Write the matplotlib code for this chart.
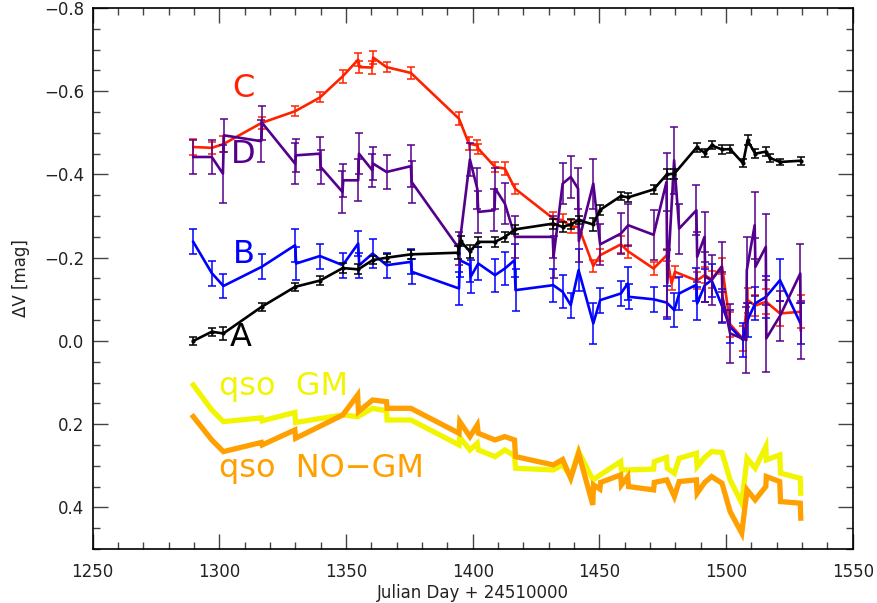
import matplotlib
matplotlib.use("Agg")
import matplotlib.pyplot as plt
from matplotlib.ticker import MultipleLocator, FuncFormatter

# ---------------- light curves (Julian Day - 2451000, delta V in mag) ----------------
jd_a = [1289.7, 1297.0, 1301.6, 1316.7, 1329.9, 1339.7, 1348.7, 1354.8, 1360.5, 1366.0,
        1375.6, 1394.2, 1395.2, 1398.9, 1402.2, 1408.8, 1412.7, 1416.7, 1431.8, 1435.5,
        1438.7, 1441.8, 1447.5, 1450.3, 1458.5, 1461.4, 1471.4, 1476.6, 1479.6, 1488.4,
        1491.6, 1494.3, 1498.4, 1501.6, 1506.7, 1508.5, 1511.5, 1515.8, 1517.2, 1521.3,
        1529.4]
mag_a = [0.000, -0.022, -0.018, -0.082, -0.130, -0.145, -0.175, -0.172, -0.194, -0.200,
         -0.208, -0.212, -0.240, -0.215, -0.238, -0.238, -0.250, -0.268, -0.282, -0.274,
         -0.280, -0.290, -0.280, -0.315, -0.348, -0.345, -0.364, -0.400, -0.402, -0.465,
         -0.452, -0.470, -0.460, -0.461, -0.427, -0.482, -0.450, -0.455, -0.440, -0.430,
         -0.433]
err_a = [0.010, 0.010, 0.015, 0.010, 0.010, 0.010, 0.012, 0.012, 0.010, 0.010,
         0.010, 0.015, 0.012, 0.015, 0.012, 0.012, 0.012, 0.010, 0.012, 0.012,
         0.012, 0.010, 0.015, 0.012, 0.010, 0.010, 0.010, 0.012, 0.012, 0.010,
         0.010, 0.010, 0.010, 0.010, 0.010, 0.012, 0.010, 0.010, 0.010, 0.008,
         0.010]

jd_b = [1289.7, 1297.0, 1301.6, 1316.7, 1329.9, 1330.3, 1339.7, 1348.7, 1354.8, 1355.2,
        1360.5, 1366.0, 1375.6, 1376.0, 1394.6, 1394.9, 1398.9, 1399.2, 1402.2, 1408.8,
        1412.7, 1416.5, 1416.9, 1431.8, 1435.5, 1438.7, 1441.8, 1447.6, 1450.3, 1458.5,
        1461.2, 1461.6, 1471.4, 1476.6, 1479.6, 1481.5, 1488.3, 1488.6, 1491.6, 1494.3,
        1498.4, 1501.6, 1506.7, 1508.5, 1511.5, 1515.8, 1521.3, 1529.4]
mag_b = [-0.238, -0.163, -0.132, -0.178, -0.230, -0.186, -0.204, -0.182, -0.234, -0.182,
         -0.210, -0.182, -0.190, -0.166, -0.126, -0.194, -0.182, -0.154, -0.186, -0.158,
         -0.174, -0.194, -0.122, -0.134, -0.118, -0.086, -0.170, -0.042, -0.098, -0.114,
         -0.138, -0.106, -0.100, -0.092, -0.074, -0.114, -0.135, -0.090, -0.134, -0.146,
         -0.084, -0.034, -0.002, -0.050, -0.090, -0.106, -0.146, -0.042]
err_b = [0.030, 0.030, 0.030, 0.030, 0.040, 0.040, 0.030, 0.030, 0.030, 0.030,
         0.035, 0.030, 0.030, 0.030, 0.040, 0.040, 0.040, 0.040, 0.040, 0.040,
         0.040, 0.040, 0.050, 0.040, 0.040, 0.030, 0.050, 0.050, 0.030, 0.030,
         0.040, 0.030, 0.030, 0.040, 0.040, 0.040, 0.040, 0.040, 0.040, 0.040,
         0.040, 0.040, 0.040, 0.040, 0.040, 0.050, 0.050, 0.050]

jd_c = [1289.7, 1297.0, 1301.6, 1316.7, 1329.9, 1339.7, 1348.7, 1354.8, 1355.3, 1360.3,
        1360.7, 1366.0, 1375.6, 1394.6, 1398.5, 1401.8, 1402.2, 1408.8, 1412.7, 1416.7,
        1431.8, 1435.5, 1438.7, 1441.8, 1447.6, 1450.3, 1458.5, 1461.4, 1471.4, 1476.6,
        1478.5, 1479.8, 1488.4, 1491.6, 1494.3, 1498.4, 1501.6, 1506.7, 1508.5, 1511.5,
        1515.8, 1521.3, 1529.4]
mag_c = [-0.466, -0.464, -0.473, -0.524, -0.552, -0.585, -0.636, -0.676, -0.658, -0.657,
         -0.681, -0.658, -0.644, -0.534, -0.474, -0.470, -0.462, -0.418, -0.414, -0.366,
         -0.294, -0.290, -0.275, -0.274, -0.180, -0.206, -0.232, -0.215, -0.174, -0.206,
         -0.138, -0.166, -0.145, -0.158, -0.148, -0.180, -0.040, -0.005, -0.098, -0.085,
         -0.094, -0.066, -0.070]
err_c = [0.020, 0.015, 0.020, 0.015, 0.012, 0.012, 0.015, 0.015, 0.015, 0.015,
         0.015, 0.012, 0.015, 0.015, 0.015, 0.012, 0.012, 0.012, 0.015, 0.012,
         0.015, 0.015, 0.015, 0.015, 0.015, 0.015, 0.020, 0.015, 0.015, 0.015,
         0.015, 0.015, 0.020, 0.020, 0.020, 0.020, 0.030, 0.030, 0.030, 0.025,
         0.030, 0.030, 0.040]

jd_d = [1289.7, 1297.0, 1301.4, 1301.8, 1316.5, 1316.9, 1329.9, 1330.2, 1339.7, 1340.0,
        1348.6, 1348.9, 1354.8, 1355.1, 1360.4, 1360.7, 1366.0, 1375.6, 1375.9, 1394.6,
        1398.9, 1401.8, 1402.2, 1408.6, 1408.9, 1412.7, 1416.7, 1431.6, 1431.9, 1435.5,
        1438.7, 1441.6, 1441.9, 1447.6, 1450.3, 1458.5, 1461.4, 1471.4, 1476.5, 1476.8,
        1479.5, 1481.5, 1488.3, 1488.6, 1491.5, 1491.8, 1494.3, 1498.3, 1498.6, 1501.6,
        1508.0, 1508.2, 1511.3, 1511.6, 1515.7, 1515.9, 1521.3, 1529.3, 1529.5]
mag_d = [-0.442, -0.442, -0.402, -0.494, -0.480, -0.524, -0.426, -0.446, -0.450, -0.418,
         -0.358, -0.386, -0.386, -0.450, -0.410, -0.426, -0.406, -0.420, -0.382, -0.222,
         -0.436, -0.366, -0.310, -0.314, -0.366, -0.330, -0.250, -0.250, -0.202, -0.378,
         -0.394, -0.366, -0.240, -0.378, -0.232, -0.258, -0.278, -0.255, -0.382, -0.138,
         -0.434, -0.270, -0.314, -0.202, -0.250, -0.154, -0.146, -0.178, -0.106, -0.018,
         -0.002, -0.170, -0.278, -0.178, -0.226, -0.006, -0.060, -0.162, -0.026]
err_d = [0.040, 0.040, 0.070, 0.040, 0.050, 0.040, 0.050, 0.040, 0.040, 0.040,
         0.050, 0.040, 0.050, 0.050, 0.040, 0.040, 0.040, 0.050, 0.050, 0.040,
         0.040, 0.050, 0.050, 0.050, 0.050, 0.050, 0.050, 0.050, 0.050, 0.050,
         0.050, 0.050, 0.050, 0.060, 0.050, 0.050, 0.050, 0.060, 0.070, 0.080,
         0.080, 0.060, 0.060, 0.060, 0.060, 0.060, 0.060, 0.060, 0.060, 0.070,
         0.080, 0.080, 0.080, 0.070, 0.080, 0.080, 0.060, 0.070, 0.070]

# quasar light curves derived with and without the gravitational-microlensing correction
jd_gm = [1289.7, 1297.0, 1301.6, 1316.6, 1316.9, 1329.8, 1330.1, 1348.7, 1354.6, 1360.5,
         1366.0, 1366.2, 1375.6, 1394.6, 1394.9, 1398.9, 1401.8, 1402.2, 1408.8, 1412.7,
         1416.5, 1416.9, 1431.8, 1435.5, 1438.7, 1441.8, 1447.5, 1450.3, 1458.4, 1458.7,
         1461.4, 1471.4, 1471.7, 1476.5, 1476.8, 1479.6, 1481.5, 1488.3, 1488.6, 1491.6,
         1494.3, 1498.4, 1501.6, 1506.2, 1508.3, 1511.5, 1515.7, 1515.9, 1521.2, 1521.5,
         1529.3, 1529.5]
mag_gm = [0.106, 0.166, 0.194, 0.185, 0.192, 0.172, 0.196, 0.178, 0.182, 0.162,
          0.168, 0.190, 0.190, 0.250, 0.232, 0.262, 0.246, 0.262, 0.278, 0.262,
          0.276, 0.306, 0.310, 0.298, 0.326, 0.266, 0.334, 0.322, 0.290, 0.310,
          0.310, 0.308, 0.290, 0.280, 0.306, 0.318, 0.282, 0.270, 0.302, 0.280,
          0.266, 0.268, 0.334, 0.390, 0.282, 0.306, 0.254, 0.286, 0.274, 0.318,
          0.330, 0.366]

jd_nogm = [1289.7, 1297.0, 1301.6, 1316.6, 1316.9, 1329.8, 1330.1, 1348.7, 1354.6, 1354.9,
           1360.5, 1366.0, 1366.2, 1375.6, 1394.6, 1394.9, 1398.9, 1401.8, 1402.2, 1408.8,
           1412.7, 1416.5, 1416.9, 1431.8, 1435.5, 1438.7, 1441.8, 1447.4, 1447.7, 1450.2,
           1450.5, 1458.4, 1458.7, 1461.2, 1461.5, 1471.4, 1471.7, 1476.6, 1479.6, 1481.5,
           1488.3, 1488.6, 1491.6, 1494.3, 1498.4, 1501.6, 1506.2, 1508.3, 1511.5, 1515.7,
           1515.9, 1521.2, 1521.5, 1529.3, 1529.5]
mag_nogm = [0.182, 0.238, 0.266, 0.244, 0.250, 0.214, 0.234, 0.178, 0.130, 0.170,
            0.142, 0.146, 0.162, 0.162, 0.222, 0.194, 0.230, 0.202, 0.222, 0.238,
            0.230, 0.238, 0.278, 0.298, 0.285, 0.330, 0.270, 0.394, 0.346, 0.356,
            0.340, 0.322, 0.346, 0.326, 0.350, 0.358, 0.340, 0.334, 0.374, 0.338,
            0.334, 0.366, 0.340, 0.326, 0.342, 0.410, 0.462, 0.358, 0.382, 0.350,
            0.326, 0.338, 0.386, 0.390, 0.426]

# ---------------- styling ----------------
c_a, c_b, c_c, c_d = "#000000", "#0000ff", "#ff2200", "#55008c"
c_gm, c_nogm = "#f2f500", "#ffa000"

plt.rcParams["font.family"] = ["DejaVu Sans"]
fig = plt.figure(figsize=(8.77, 6.03), dpi=100)
ax = fig.add_axes([0.1057, 0.0896, 0.8666, 0.8971])

ax.plot(jd_gm, mag_gm, color=c_gm, lw=3.8, solid_joinstyle="miter", zorder=2)
ax.plot(jd_nogm, mag_nogm, color=c_nogm, lw=3.8, solid_joinstyle="miter", zorder=3)

ebkw = dict(elinewidth=1.1, capsize=3.2, capthick=1.1)
ax.errorbar(jd_c, mag_c, yerr=err_c, color=c_c, lw=1.9, zorder=4, **ebkw)
ax.errorbar(jd_b, mag_b, yerr=err_b, color=c_b, lw=1.9, zorder=5, **ebkw)
ax.errorbar(jd_d, mag_d, yerr=err_d, color=c_d, lw=1.9, zorder=6, **ebkw)
ax.errorbar(jd_a, mag_a, yerr=err_a, color=c_a, lw=1.9, marker=".", ms=4, zorder=7, **ebkw)

# image / curve labels
lab_kw = dict(fontsize=23, ha="center", va="center")
ax.text(1309.3, -0.606, "C", color=c_c, **lab_kw)
ax.text(1309.6, -0.447, "D", color=c_d, **lab_kw)
ax.text(1309.6, -0.208, "B", color=c_b, **lab_kw)
ax.text(1308.5, -0.008, "A", color=c_a, **lab_kw)
ax.text(1300.0, 0.130, "qso  GM", color=c_gm, fontsize=23, ha="left", va="baseline")
ax.text(1300.0, 0.326, "qso  NO\u2212GM", color=c_nogm, fontsize=23, ha="left", va="baseline")

# axes: magnitudes increase downward
ax.set_xlim(1250, 1550)
ax.set_ylim(0.5, -0.8)
ax.xaxis.set_major_locator(MultipleLocator(50))
ax.xaxis.set_minor_locator(MultipleLocator(10))
ax.yaxis.set_major_locator(MultipleLocator(0.2))
ax.yaxis.set_minor_locator(MultipleLocator(0.05))
ax.yaxis.set_major_formatter(FuncFormatter(lambda v, pos: f"{v:.1f}".replace("-", "\u2212")))
ax.tick_params(which="both", direction="in", top=True, right=True, color="#444444", width=1)
ax.tick_params(which="major", length=11)
ax.tick_params(which="minor", length=5)
ax.tick_params(axis="x", which="major", pad=10, labelsize=12, labelcolor="#222222")
ax.tick_params(axis="y", which="major", pad=6, labelsize=12, labelcolor="#222222")
for sp in ax.spines.values():
    sp.set_linewidth(1.2)

ax.set_xlabel("Julian Day + 24510000", fontsize=12, color="#222222", labelpad=2)
ax.set_ylabel("\u0394V [mag]", fontsize=12, color="#222222", labelpad=10)

fig.savefig("out.png", dpi=100)
